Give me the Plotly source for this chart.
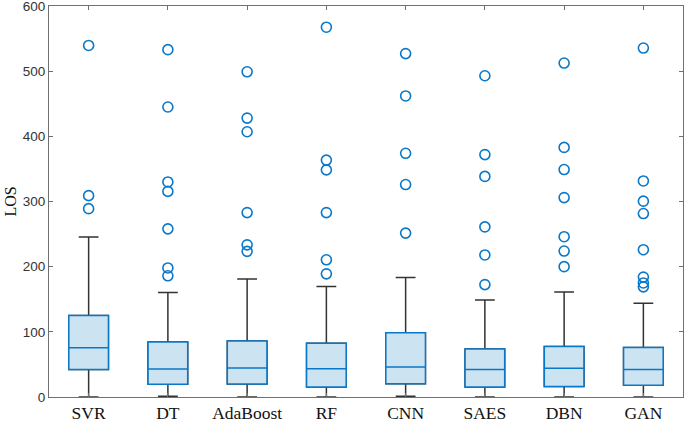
import plotly.graph_objects as go

categories = ["SVR", "DT", "AdaBoost", "RF", "CNN", "SAES", "DBN", "GAN"]
q1 = [42, 19.5, 20, 15.5, 20.5, 15.5, 16, 18]
median = [75.5, 43, 44.5, 43.5, 46, 42, 44, 42]
q3 = [125, 84.5, 86, 82.5, 98.5, 73.5, 77.5, 76]
lower_whisker = [0, 1, 0, 0, 1, 0, 0, 0]
upper_whisker = [245.5, 160.5, 181, 169.5, 183.5, 149, 161, 144]
outliers = {
    "SVR": [539.5, 309, 289],
    "DT": [533, 445, 330, 315.5, 258, 198, 186],
    "AdaBoost": [499, 428, 407, 283, 233.5, 223.5],
    "RF": [567.5, 363.5, 348.5, 283, 210.5, 189],
    "CNN": [527, 462, 374, 326, 251.5],
    "SAES": [493, 372, 338.5, 261, 218, 172.5],
    "DBN": [512.5, 383, 349, 306, 246, 224, 200],
    "GAN": [535.5, 331.5, 300.5, 281.5, 226, 184, 175, 169],
}
y_ticks = [0, 100, 200, 300, 400, 500, 600]

BLUE = "#0A78C8"
FILL = "#CCE3F2"
DARK = "#333333"

fig = go.Figure()
# whiskers (dark) with box
fig.add_trace(go.Box(
    x=categories, q1=q1, median=median, q3=q3,
    lowerfence=lower_whisker, upperfence=upper_whisker,
    width=0.5, whiskerwidth=0.5,
    line=dict(color=DARK, width=1.5), fillcolor=FILL,
    boxpoints=False, showlegend=False, hoverinfo="skip",
))
# blue box overlay
fig.add_trace(go.Box(
    x=categories, q1=q1, median=median, q3=q3,
    lowerfence=q1, upperfence=q3,
    width=0.5, whiskerwidth=0,
    line=dict(color=BLUE, width=1.5), fillcolor=FILL,
    boxpoints=False, showlegend=False,
))
ox, oy = [], []
for c in categories:
    for v in outliers[c]:
        ox.append(c)
        oy.append(v)
fig.add_trace(go.Scatter(
    x=ox, y=oy, mode="markers",
    marker=dict(symbol="circle-open", size=10, color=BLUE, line=dict(width=1.6, color=BLUE)),
    showlegend=False,
))

axis_common = dict(
    showline=True, mirror="ticks", linecolor="#707070", linewidth=1,
    ticks="inside", ticklen=4, tickcolor="#707070", showgrid=False, zeroline=False,
    automargin=False, ticklabeloverflow="allow",
)
fig.update_layout(
    width=685, height=423,
    margin=dict(l=49, r=2, t=6, b=26),
    plot_bgcolor="white", paper_bgcolor="white",
    boxmode="overlay",
    xaxis=dict(**axis_common, type="category", categoryorder="array", categoryarray=categories,
               range=[-0.5, 7.5], ticklabelstandoff=0,
               tickfont=dict(family="Liberation Serif", size=17.5, color="#111111")),
    yaxis=dict(**axis_common, range=[-0.01, 600.01], tickvals=y_ticks,
               tickfont=dict(family="Liberation Sans", size=13.5, color="#333333"),
               title=dict(text="LOS", font=dict(family="Liberation Serif", size=16, color="#111111"), standoff=2)),
)
fig.write_html("out.html", config={"displayModeBar": False},
               post_script="document.body.style.margin='0';document.body.style.overflow='hidden';")
